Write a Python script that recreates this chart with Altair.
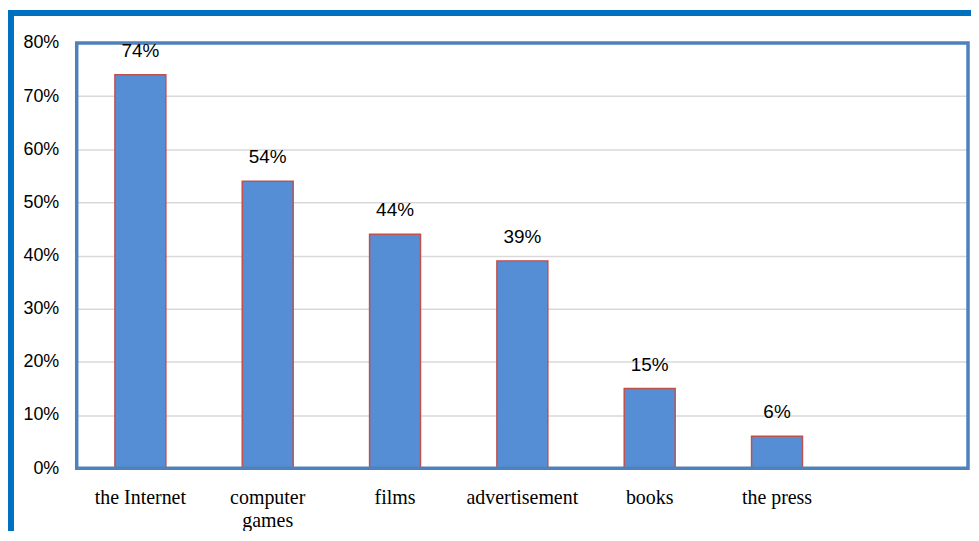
import altair as alt
import pandas as pd

categories = ["the Internet", "computer games", "films", "advertisement", "books", "the press"]
shares = [74, 54, 44, 39, 15, 6]
slots = categories + [" "]
y_ticks = [0, 10, 20, 30, 40, 50, 60, 70, 80]

df = pd.DataFrame({"category": categories, "share": shares})
df["label"] = [f"{v}%" for v in shares]

W, H = 895, 427

x_enc = alt.X(
    "category:N",
    sort=slots,
    scale=alt.Scale(domain=slots, paddingInner=0.6, paddingOuter=0.3),
    axis=alt.Axis(
        title=None, labelAngle=0, labelFont="Liberation Serif", labelFontSize=20,
        labelColor="#000000", labelPadding=19, labelLineHeight=24,
        labelExpr="datum.value == 'computer games' ? ['computer', 'games'] : datum.value",
        ticks=False, domain=False, grid=False,
    ),
)
y_enc = alt.Y(
    "share:Q",
    scale=alt.Scale(domain=[0, 80], nice=False),
    axis=alt.Axis(
        title=None, values=y_ticks, labelExpr="datum.value + '%'",
        labelFont="Liberation Sans", labelFontSize=18, labelColor="#000000",
        labelPadding=18, ticks=False, domain=False,
        gridColor="#D9D9D9", gridWidth=1.5,
    ),
)

base = alt.Chart(df).encode(x=x_enc, y=y_enc)

bars = base.mark_bar(color="#558ED5", stroke="#C0504D", strokeWidth=1.5)
labels = base.mark_text(
    dy=-18, baseline="alphabetic", font="Liberation Sans", fontSize=19, color="#000000"
).encode(text="label:N")

plot_frame = alt.Chart(alt.Data(values=[{"a": 1}])).mark_rect(
    fill=None, stroke="#4F81BD", strokeWidth=3.5
).encode(
    x=alt.value(0), x2=alt.value(W), y=alt.value(0), y2=alt.value(H)
)

outer_frame = alt.Chart(alt.Data(values=[{"a": 1}])).mark_rect(
    fill=None, stroke="#0070C0", strokeWidth=6
).encode(
    x=alt.value(-66), x2=alt.value(1100), y=alt.value(-30), y2=alt.value(800)
)

chart = alt.layer(bars, plot_frame, labels, outer_frame).properties(
    width=W, height=H,
    autosize=alt.AutoSizeParams(type="none"),
    padding={"left": 69, "top": 34, "right": 3, "bottom": 62},
).configure_view(stroke=None)

chart.save("out.html", embed_options={"renderer": "svg", "actions": False})
